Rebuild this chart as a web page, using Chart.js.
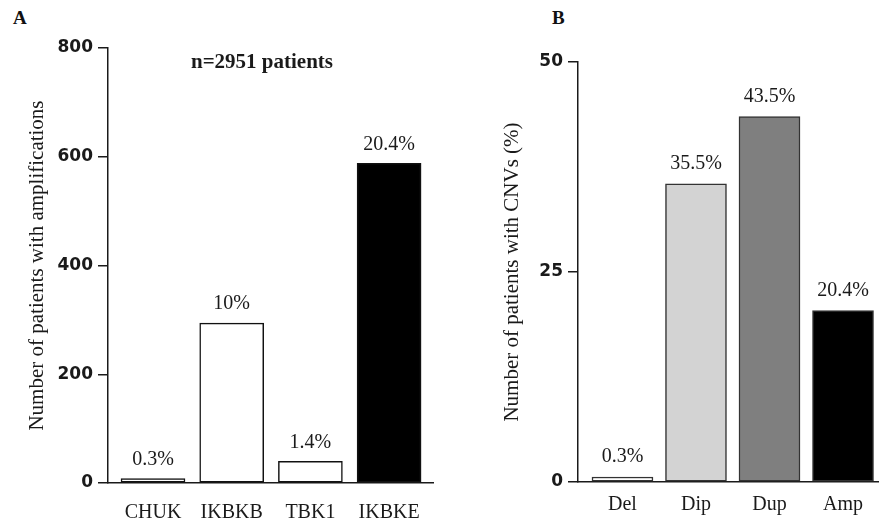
<!DOCTYPE html>
<html>
<head>
<meta charset="utf-8">
<script src="https://cdn.jsdelivr.net/npm/chart.js@4"></script>
<style>
  body { margin: 0; background: #fff; width: 879px; height: 523px; overflow: hidden; position: relative; }
  canvas { position: absolute; top: 0; }
  #chartA { left: 0; }
  #chartB { left: 440px; }
  .panel { position: absolute; font: bold 19px "Liberation Serif", serif; color: #111; }
</style>
</head>
<body>
<div class="panel" style="left:13px; top:7px;">A</div>
<div class="panel" style="left:552px; top:7px;">B</div>
<canvas id="chartA" width="440" height="523"></canvas>
<canvas id="chartB" width="439" height="523"></canvas>
<script>
// panel A: amplifications per gene
const genes = ['CHUK', 'IKBKB', 'TBK1', 'IKBKE'];
const ampCounts = [8, 294, 40, 588];
const ampPercentLabels = ['0.3%', '10%', '1.4%', '20.4%'];
const countTicks = [0, 200, 400, 600, 800];

// panel B: CNV types
const cnvTypes = ['Del', 'Dip', 'Dup', 'Amp'];
const cnvPercent = [0.6, 35.5, 43.5, 20.4];
const cnvPercentLabels = ['0.3%', '35.5%', '43.5%', '20.4%'];
const percentTicks = [0, 25, 50];

const ink = '#1a1a1a';
const serif = '"Liberation Serif", "Times New Roman", serif';

// writes the percentage over each bar
const barLabels = {
  id: 'barLabels',
  afterDatasetsDraw(chart, args, opts) {
    const c = chart.ctx;
    const meta = chart.getDatasetMeta(0);
    c.save();
    c.font = '20px ' + serif;
    c.fillStyle = ink;
    c.textAlign = 'center';
    c.textBaseline = 'bottom';
    meta.data.forEach((bar, i) => {
      c.fillText(opts.labels[i], bar.x, bar.y - opts.gap);
    });
    if (opts.note) {
      c.font = 'bold 21px ' + serif;
      c.textBaseline = 'middle';
      c.fillText(opts.note.text, opts.note.x, opts.note.y);
    }
    c.restore();
  }
};

function makeChart(id, cats, values, labels, yTicks, cfg) {
  return new Chart(document.getElementById(id), {
    type: 'bar',
    data: {
      datasets: [{
        data: values.map((v, i) => ({ x: i, y: v })),
        backgroundColor: cfg.fills,
        borderColor: cfg.edge,
        borderWidth: 1.5,
        borderSkipped: false,
        barThickness: cfg.barWidth
      }]
    },
    options: {
      responsive: false,
      animation: false,
      layout: { padding: cfg.padding },
      plugins: {
        legend: { display: false },
        tooltip: { enabled: false },
        barLabels: { labels: labels, gap: cfg.gap, note: cfg.note }
      },
      scales: {
        x: {
          type: 'linear',
          offset: false,
          min: cfg.xMin,
          max: cfg.xMax,
          afterBuildTicks: s => { s.ticks = cats.map((c, i) => ({ value: i })); },
          afterFit: s => { s.height = cfg.xHeight; },
          grid: { display: false },
          border: { display: true, color: ink, width: 1.5 },
          ticks: {
            callback: v => cats[v],
            autoSkip: false,
            maxRotation: 0,
            padding: cfg.xPad,
            color: ink,
            font: { family: serif, size: 20 }
          }
        },
        y: {
          min: yTicks[0],
          max: yTicks[yTicks.length - 1],
          afterBuildTicks: s => { s.ticks = yTicks.map(v => ({ value: v })); },
          afterFit: s => { s.width = cfg.yWidth; },
          grid: { drawOnChartArea: false, drawTicks: true, tickLength: 10, color: ink, lineWidth: 1.5 },
          border: { display: true, color: ink, width: 1.5 },
          ticks: {
            padding: 5,
            color: ink,
            font: { family: '"DejaVu Sans", sans-serif', size: 17, weight: 'bold' }
          },
          title: {
            display: true,
            text: cfg.yTitle,
            color: ink,
            padding: { top: cfg.titlePad },
            font: { family: serif, size: 21 }
          }
        }
      }
    },
    plugins: [barLabels]
  });
}

makeChart('chartA', genes, ampCounts, ampPercentLabels, countTicks, {
  fills: ['#ffffff', '#ffffff', '#ffffff', '#000000'],
  edge: '#111',
  barWidth: 64,
  xMin: -0.572,
  xMax: 3.558,
  xHeight: 40,
  xPad: 10,
  yWidth: 108,
  titlePad: 25,
  padding: { top: 48, right: 7, bottom: 0, left: 0 },
  gap: 9,
  yTitle: 'Number of patients with amplifications',
  note: { text: 'n=2951 patients', x: 262, y: 63 }
});

makeChart('chartB', cnvTypes, cnvPercent, cnvPercentLabels, percentTicks, {
  fills: ['#ffffff', '#d3d3d3', '#7f7f7f', '#000000'],
  edge: '#333',
  barWidth: 61,
  xMin: -0.605,
  xMax: 3.476,
  xHeight: 41,
  xPad: 3,
  yWidth: 138,
  titlePad: 60,
  padding: { top: 62, right: 1, bottom: 0, left: 0 },
  gap: 10,
  yTitle: 'Number of patients with CNVs (%)'
});
</script>
</body>
</html>
